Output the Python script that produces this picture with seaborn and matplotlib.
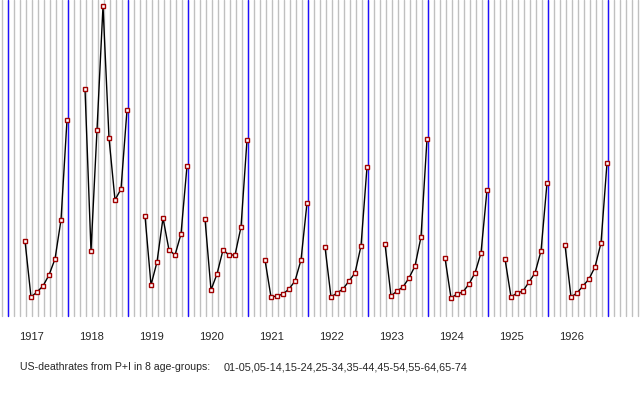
import numpy as np
import pandas as pd
import matplotlib
matplotlib.use("Agg")
import matplotlib.pyplot as plt
import seaborn as sns

# ---- data: deathrate heights (px-units above baseline) per year, 8 age groups ----
years = [1917, 1918, 1919, 1920, 1921, 1922, 1923, 1924, 1925, 1926]
age_groups = ["01-05", "05-14", "15-24", "25-34", "35-44", "45-54", "55-64", "65-74"]
y1917 = [75, 19, 24, 30, 41, 57, 96, 196]
y1918 = [227, 65, 186, 310, 178, 116, 127, 206]
y1919 = [100, 31, 54, 98, 66, 61, 82, 150]
y1920 = [97, 26, 42, 66, 61, 61, 89, 176]
y1921 = [56, 19, 20, 22, 27, 35, 56, 113]
y1922 = [69, 19, 23, 27, 35, 43, 70, 149]
y1923 = [72, 20, 25, 29, 38, 50, 79, 177]
y1924 = [58, 18, 22, 24, 32, 43, 63, 126]
y1925 = [57, 19, 23, 25, 34, 43, 65, 133]
y1926 = [71, 19, 23, 30, 37, 49, 73, 153]
rates = [y1917, y1918, y1919, y1920, y1921, y1922, y1923, y1924, y1925, y1926]

rows = []
for k, (yr, vals) in enumerate(zip(years, rates)):
    for i, v in enumerate(vals):
        rows.append({"year": yr, "slot": k * 10 + i + 3, "rate": v})
df = pd.DataFrame(rows)
df["x"] = 7 + 6 * df["slot"]

sns.set_style("white")
plt.rcParams["font.family"] = ["Liberation Sans", "DejaVu Sans"]

fig = plt.figure(figsize=(6.4, 4.0), dpi=100)
ax = fig.add_axes([0, 0, 1, 1])
ax.set_xlim(0, 640)
ax.set_ylim(-84, 316)
ax.axis("off")

# grid: thin gray every slot, blue at year boundaries
for j in range(107):
    ax.plot([1.5 + 6 * j] * 2, [0, 316], color="#c0c0c0", lw=1, zorder=0)
for k in range(11):
    ax.plot([7.5 + 60 * k] * 2, [0, 316], color="#2010ff", lw=1, zorder=1)

for yr in years:
    sub = df[df["year"] == yr]
    sns.lineplot(data=sub, x="x", y="rate", ax=ax, color="black", lw=1,
                 marker="s", markersize=3.2, markerfacecolor="white",
                 markeredgecolor="#a00000", markeredgewidth=1, zorder=3)
    ax.text(sub["x"].iloc[0] - 6, -21, str(yr), fontsize=8, ha="left", va="center")

ax.text(20, -51, "US-deathrates from P+I in 8 age-groups:", fontsize=7.6, va="center")
ax.text(224, -52, ",".join(age_groups), fontsize=7.8, va="center")

fig.savefig("out.png", dpi=100)
